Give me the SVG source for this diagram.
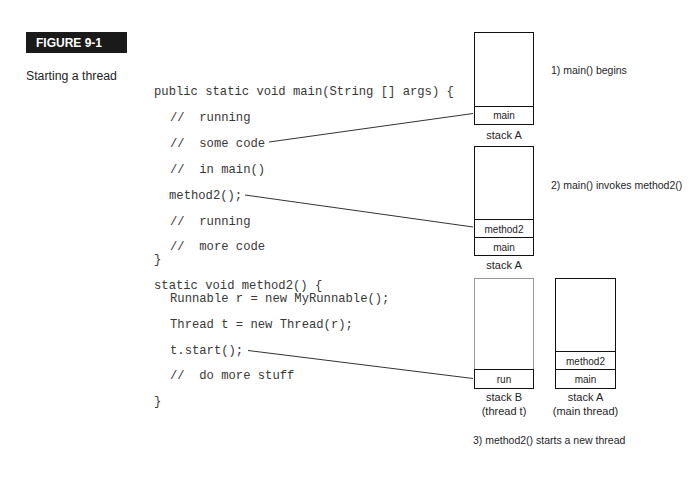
<svg xmlns="http://www.w3.org/2000/svg" width="699" height="484" viewBox="0 0 699 484">
<style>
.code{font-family:"Liberation Mono","Courier New",monospace;font-size:12.2px;fill:#383838;white-space:pre}
.sans{font-family:"Liberation Sans",Arial,sans-serif;font-size:10.5px;fill:#1e1e28}
.cell{font-family:"Liberation Sans",Arial,sans-serif;font-size:10px;fill:#1e1e28;text-anchor:middle}
.lbl{font-family:"Liberation Sans",Arial,sans-serif;font-size:11px;fill:#1e1e28;text-anchor:middle}
.box{fill:#fff;stroke:#111;stroke-width:1}
.gbox{fill:#fff;stroke:#999;stroke-width:1}
.conn{stroke:#333;stroke-width:1;fill:none}
</style>
<rect width="699" height="484" fill="#fff"/>
<g id="title">
<rect x="26" y="32" width="101" height="21" fill="#1a1a1a"/>
<text x="36" y="47" style="font-family:'Liberation Sans',Arial,sans-serif;font-size:12px;font-weight:bold;fill:#fff">FIGURE 9-1</text>
<text x="26" y="80" style="font-family:'Liberation Sans',Arial,sans-serif;font-size:12.3px;fill:#1e1e28">Starting a thread</text>
</g>
<g id="code">
<text class="code" x="154" y="95">public static void main(String [] args) {</text>
<text class="code" x="170" y="121">//  running</text>
<text class="code" x="170" y="147">//  some code</text>
<text class="code" x="170" y="173">//  in main()</text>
<text class="code" x="169" y="199">method2();</text>
<text class="code" x="170" y="225">//  running</text>
<text class="code" x="170" y="250">//  more code</text>
<text class="code" x="154" y="263">}</text>
<text class="code" x="154" y="289">static void method2() {</text>
<text class="code" x="170" y="302">Runnable r = new MyRunnable();</text>
<text class="code" x="170" y="328">Thread t = new Thread(r);</text>
<text class="code" x="170" y="354">t.start();</text>
<text class="code" x="170" y="379">//  do more stuff</text>
<text class="code" x="154" y="405">}</text>
</g>
<g id="stack1">
<rect class="box" x="474.5" y="32.5" width="59" height="74"/>
<rect class="box" x="474.5" y="106.5" width="59" height="18"/>
<text class="cell" x="504" y="119">main</text>
<text class="lbl" x="504" y="139">stack A</text>
<text class="sans" x="551" y="74">1) main() begins</text>
</g>
<g id="stack2">
<rect class="box" x="474.5" y="146.5" width="59" height="73"/>
<rect class="box" x="474.5" y="219.5" width="59" height="18"/>
<rect class="box" x="474.5" y="237.5" width="59" height="18"/>
<text class="cell" x="504" y="233">method2</text>
<text class="cell" x="504" y="251">main</text>
<text class="lbl" x="504" y="269">stack A</text>
<text class="sans" x="551" y="189">2) main() invokes method2()</text>
</g>
<g id="stack3B">
<rect class="gbox" x="474.5" y="278.5" width="59" height="91"/>
<rect class="box" x="474.5" y="369.5" width="59" height="19"/>
<text class="cell" x="504" y="383">run</text>
<text class="lbl" x="504" y="401">stack B</text>
<text class="lbl" x="504" y="415">(thread t)</text>
</g>
<g id="stack3A">
<rect class="box" x="555.5" y="278.5" width="60" height="73"/>
<rect class="box" x="555.5" y="351.5" width="60" height="18"/>
<rect class="box" x="555.5" y="369.5" width="60" height="19"/>
<text class="cell" x="585.5" y="365">method2</text>
<text class="cell" x="585.5" y="383">main</text>
<text class="lbl" x="585.5" y="401">stack A</text>
<text class="lbl" x="585.5" y="415">(main thread)</text>
</g>
<g id="caption3">
<text class="sans" x="473" y="444">3) method2() starts a new thread</text>
</g>
<g id="connectors">
<line class="conn" x1="269" y1="142" x2="473" y2="113.5"/>
<line class="conn" x1="245" y1="195" x2="473" y2="227"/>
<line class="conn" x1="248" y1="350.5" x2="473" y2="378.5"/>
</g>
</svg>
